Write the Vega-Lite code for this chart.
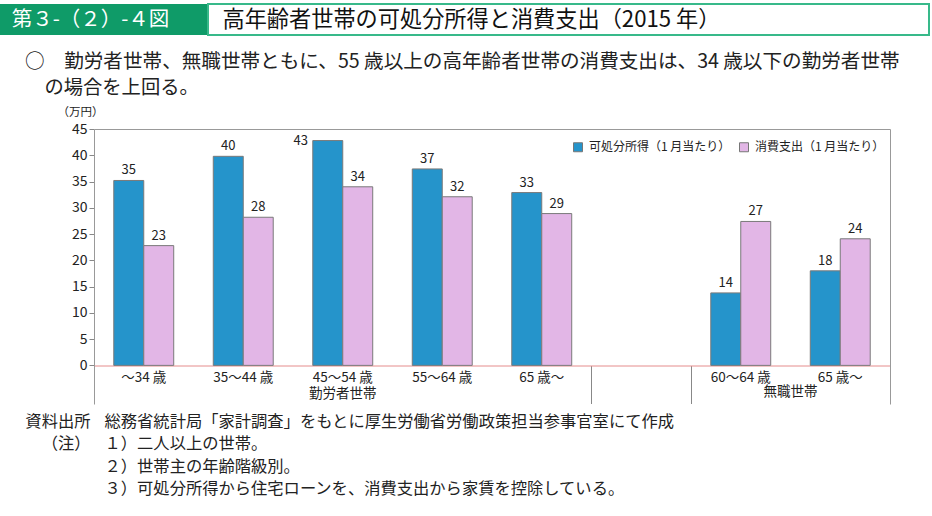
{
  "$schema": "https://vega.github.io/schema/vega-lite/v6.json",
  "padding": {"top": 3, "left": 0, "right": 0, "bottom": 0},
  "config": {"font": "Noto Sans CJK JP", "view": {"stroke": null}},
  "spacing": 16,
  "resolve": {"scale": {"color": "independent"}, "legend": {"color": "independent"}},
  "vconcat": [
    {
      "spacing": 0,
      "hconcat": [
        {
          "width": 207,
          "height": 31,
          "view": {"fill": "#0f9b68", "stroke": null},
          "data": {"values": [{"t": "第３-（２）-４図"}]},
          "mark": {"type": "text", "color": "white", "fontSize": 20.5, "dx": -13},
          "encoding": {"text": {"field": "t"}}
        },
        {
          "width": 721,
          "height": 31,
          "view": {"fill": "white", "stroke": "#38b98a", "strokeWidth": 2},
          "data": {"values": [{"t": "高年齢者世帯の可処分所得と消費支出（2015 年）"}]},
          "mark": {"type": "text", "color": "#111", "fontSize": 22.2, "align": "left", "dx": -346},
          "encoding": {"text": {"field": "t"}}
        }
      ]
    },
    {
      "width": 890,
      "height": 275,
      "title": {
        "text": "○　勤労者世帯、無職世帯ともに、55 歳以上の高年齢者世帯の消費支出は、34 歳以下の勤労者世帯",
        "anchor": "start",
        "frame": "group",
        "dx": 25,
        "fontSize": 19.6,
        "fontWeight": "normal",
        "color": "#222",
        "offset": 6
      },
      "data": {
        "values": [
          {"cat": "勤労者世帯・～34 歳", "series": "可処分所得（1 月当たり）", "value": 35.2},
          {"cat": "勤労者世帯・～34 歳", "series": "消費支出（1 月当たり）", "value": 22.8},
          {"cat": "勤労者世帯・35～44 歳", "series": "可処分所得（1 月当たり）", "value": 39.8},
          {"cat": "勤労者世帯・35～44 歳", "series": "消費支出（1 月当たり）", "value": 28.2},
          {"cat": "勤労者世帯・45～54 歳", "series": "可処分所得（1 月当たり）", "value": 42.8},
          {"cat": "勤労者世帯・45～54 歳", "series": "消費支出（1 月当たり）", "value": 34.0},
          {"cat": "勤労者世帯・55～64 歳", "series": "可処分所得（1 月当たり）", "value": 37.4},
          {"cat": "勤労者世帯・55～64 歳", "series": "消費支出（1 月当たり）", "value": 32.1},
          {"cat": "勤労者世帯・65 歳～", "series": "可処分所得（1 月当たり）", "value": 32.9},
          {"cat": "勤労者世帯・65 歳～", "series": "消費支出（1 月当たり）", "value": 28.9},
          {"cat": "無職世帯・60～64 歳", "series": "可処分所得（1 月当たり）", "value": 13.8},
          {"cat": "無職世帯・60～64 歳", "series": "消費支出（1 月当たり）", "value": 27.4},
          {"cat": "無職世帯・65 歳～", "series": "可処分所得（1 月当たり）", "value": 18.0},
          {"cat": "無職世帯・65 歳～", "series": "消費支出（1 月当たり）", "value": 24.1}
        ]
      },
      "layer": [
        {
          "mark": {"type": "bar", "stroke": "#7a7a7a", "strokeWidth": 1},
          "encoding": {
            "x": {
              "field": "cat",
              "type": "nominal",
              "sort": null,
              "scale": {
                "domain": ["勤労者世帯・～34 歳", "勤労者世帯・35～44 歳", "勤労者世帯・45～54 歳", "勤労者世帯・55～64 歳", "勤労者世帯・65 歳～", "（空白）", "無職世帯・60～64 歳", "無職世帯・65 歳～"],
                "range": [94, 890],
                "paddingInner": 0,
                "paddingOuter": 0
              },
              "axis": {
                "orient": "bottom",
                "offset": -38.5,
                "bandPosition": 0,
                "domainColor": "#e58c8c",
                "tickSize": 38,
                "tickColor": "#888",
                "tickOpacity": {"condition": {"test": "datum.value == '（空白）' || datum.value == '無職世帯・60～64 歳'", "value": 1}, "value": 0},
                "labelPadding": -33,
                "labelAngle": 0,
                "labelFontSize": 13.5,
                "labelColor": "#222",
                "labelLineHeight": 16,
                "labelBaseline": "top",
                "labelExpr": "datum.value == '勤労者世帯・45～54 歳' ? ['45～54 歳', '勤労者世帯'] : (datum.value == '（空白）' ? '' : split(datum.value, '・')[1])",
                "title": [
                  "総務省統計局「家計調査」をもとに厚生労働省労働政策担当参事官室にて作成",
                  "１）二人以上の世帯。",
                  "２）世帯主の年齢階級別。",
                  "３）可処分所得から住宅ローンを、消費支出から家賃を控除している。"
                ],
                "titleFontSize": 16.3,
                "titleFontWeight": "normal",
                "titleColor": "#222",
                "titleAlign": "left",
                "titleAnchor": "start",
                "titleBaseline": "top",
                "titleX": 104,
                "titleY": 48,
                "titleLineHeight": 22.3
              }
            },
            "xOffset": {
              "field": "series",
              "type": "nominal",
              "sort": ["可処分所得（1 月当たり）", "消費支出（1 月当たり）"],
              "scale": {"paddingInner": 0, "paddingOuter": 0.66}
            },
            "y": {
              "field": "value",
              "type": "quantitative",
              "scale": {"domain": [-7.35, 45], "nice": false, "zero": false},
              "axis": {
                "orient": "left",
                "offset": -94,
                "values": [0, 5, 10, 15, 20, 25, 30, 35, 40, 45],
                "grid": false,
                "domainColor": "#999",
                "tickColor": "#888",
                "tickSize": 5,
                "labelPadding": 2,
                "labelFontSize": 14,
                "labelColor": "#222",
                "title": "（万円）",
                "titleAngle": 0,
                "titleX": -14,
                "titleY": -17,
                "titleAlign": "center",
                "titleBaseline": "middle",
                "titleFontSize": 11.5,
                "titleFontWeight": "normal",
                "titleColor": "#222"
              }
            },
            "y2": {"datum": 0},
            "color": {
              "field": "series",
              "type": "nominal",
              "scale": {"domain": ["可処分所得（1 月当たり）", "消費支出（1 月当たり）"], "range": ["#2594cb", "#e2b6e6"]},
              "legend": {
                "orient": "none",
                "legendX": 572,
                "legendY": 12,
                "direction": "horizontal",
                "title": null,
                "symbolType": "square",
                "symbolSize": 81,
                "symbolStrokeColor": "#777",
                "symbolStrokeWidth": 1,
                "labelFontSize": 12,
                "labelColor": "#222",
                "labelOffset": 5,
                "columnPadding": 6
              }
            }
          }
        },
        {
          "transform": [{"filter": "datum.value < 42"}],
          "mark": {"type": "text", "baseline": "bottom", "dy": -3, "fontSize": 13, "color": "#222"},
          "encoding": {
            "x": {
              "field": "cat",
              "type": "nominal",
              "axis": {
                "orient": "top",
                "labels": false,
                "ticks": false,
                "domainColor": "#999",
                "title": ["資料出所", "（注）"],
                "titleFontSize": 16.3,
                "titleFontWeight": "normal",
                "titleColor": "#222",
                "titleAlign": "right",
                "titleAnchor": "start",
                "titleBaseline": "top",
                "titleX": 90,
                "titleY": 284.4,
                "titleLineHeight": 22.3
              }
            },
            "xOffset": {"field": "series", "type": "nominal"},
            "y": {
              "field": "value",
              "type": "quantitative",
              "axis": {
                "orient": "right",
                "labels": false,
                "ticks": false,
                "grid": false,
                "domainColor": "#999",
                "title": "の場合を上回る。",
                "titleAngle": 0,
                "titleAlign": "left",
                "titleBaseline": "middle",
                "titleX": -846,
                "titleY": -41.3,
                "titleFontSize": 19.3,
                "titleFontWeight": "normal",
                "titleColor": "#222"
              }
            },
            "text": {"field": "value", "type": "quantitative", "format": ".0f"}
          }
        },
        {
          "transform": [{"filter": "datum.value >= 42"}],
          "mark": {"type": "text", "baseline": "middle", "dx": -27, "dy": 0, "fontSize": 13, "color": "#222"},
          "encoding": {
            "x": {"field": "cat", "type": "nominal", "axis": null},
            "xOffset": {"field": "series", "type": "nominal"},
            "y": {"field": "value", "type": "quantitative", "axis": null},
            "text": {"field": "value", "type": "quantitative", "format": ".0f"}
          }
        },
        {
          "data": {"values": [{"cat": "無職世帯・65 歳～", "label": "無職世帯"}]},
          "mark": {"type": "text", "fontSize": 13.5, "color": "#222", "baseline": "middle"},
          "encoding": {
            "x": {"field": "cat", "type": "nominal", "bandPosition": 0, "axis": null},
            "y": {"datum": -5.1, "type": "quantitative", "axis": null},
            "text": {"field": "label"}
          }
        }
      ],
      "resolve": {"axis": {"x": "independent", "y": "independent"}}
    }
  ]
}
